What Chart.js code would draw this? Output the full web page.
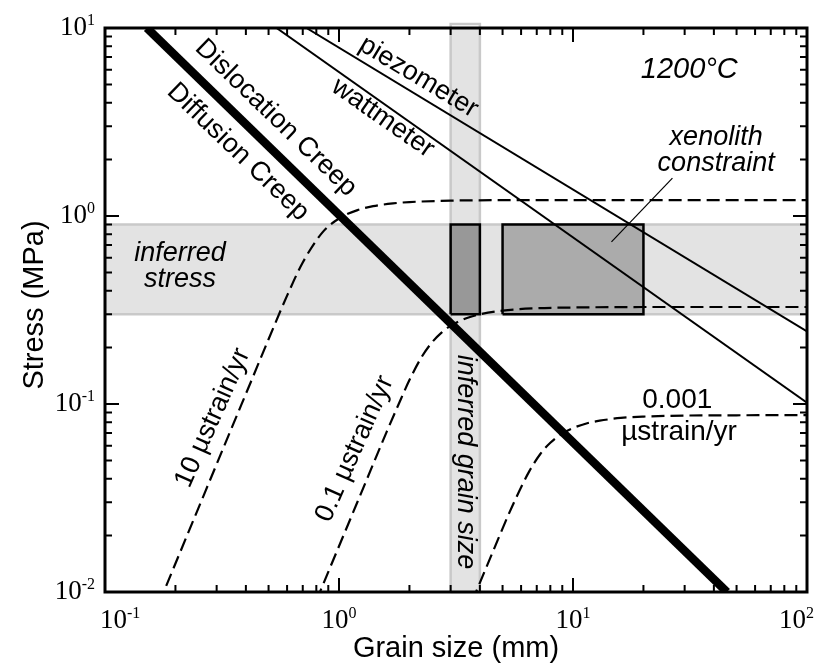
<!DOCTYPE html>
<html>
<head>
<meta charset="utf-8">
<script src="https://cdn.jsdelivr.net/npm/chart.js@4.4.1/dist/chart.umd.min.js"></script>
<style>
  html, body { margin: 0; padding: 0; background: #fff; }
  canvas { display: block; }
</style>
</head>
<body>
<canvas id="chart" width="815" height="664"></canvas>
<script>
// axes (both logarithmic)
const grainRange = [0.1, 100];
const stressRange = [0.01, 10];
const xTickValues = [0.1, 1, 10, 100];
const xTickExponents = ['-1', '0', '1', '2'];
const yTickValues = [0.01, 0.1, 1, 10];
const yTickExponents = ['-2', '-1', '0', '1'];

// shaded constraints
const inferredStress = [0.3, 0.9];
const inferredGrainSize = [3, 4];
const grainBandStress = [0.01, 10.5];
const xenolithGrain = [5, 20];
const xenolithStress = [0.3, 0.9];
const pointerGrain = [14.6, 26.6];
const pointerStress = [0.728, 1.59];

// field boundary and paleo-stress lines
const boundaryGrain = [0.151, 45.5];
const boundaryStress = [10, 0.01];
const piezometerGrain = [0.726, 100];
const piezometerStress = [10, 0.243];
const wattmeterGrain = [0.541, 100];
const wattmeterStress = [10, 0.1016];

// constant strain-rate curves
const rate10Grain = [0.17, 0.25, 0.35, 0.42, 0.5, 0.6, 0.7, 0.85, 1.0, 1.2, 1.4, 1.7, 2, 3, 5, 10, 100];
const rate10Stress = [0.0087, 0.0277, 0.076, 0.131, 0.221, 0.377, 0.566, 0.818, 0.970, 1.075, 1.128, 1.167, 1.186, 1.207, 1.214, 1.216, 1.216];
const rate01Grain = [0.8, 1.2, 1.6, 1.8, 2.0, 2.25, 2.5, 2.75, 3.0, 3.5, 4, 5, 7, 10, 20, 100];
const rate01Stress = [0.009, 0.0302, 0.0713, 0.100, 0.134, 0.177, 0.213, 0.2405, 0.261, 0.286, 0.300, 0.314, 0.323, 0.326, 0.328, 0.328];
const rate0001Grain = [3.7, 4.5, 5.5, 6.5, 7.25, 8, 9, 10, 11.5, 13, 16, 20, 30, 50, 100];
const rate0001Stress = [0.00888, 0.0159, 0.0286, 0.0438, 0.0542, 0.0622, 0.0697, 0.0745, 0.079, 0.0815, 0.0843, 0.0857, 0.0868, 0.0871, 0.0873];

const pts = (xs, ys) => xs.map((v, i) => ({ x: v, y: ys[i] }));
const rect = (xr, yr) => [
  { x: xr[0], y: yr[0] }, { x: xr[1], y: yr[0] }, { x: xr[1], y: yr[1] },
  { x: xr[0], y: yr[1] }, { x: xr[0], y: yr[0] }
];

const SANS = '"Liberation Sans", Arial, sans-serif';
const SERIF = '"Liberation Serif", "Times New Roman", serif';

const base = { pointRadius: 0, tension: 0, borderColor: '#000', fill: false };
const dashed = { ...base, borderWidth: 2.2, borderDash: [13, 6], cubicInterpolationMode: 'monotone', order: 5 };

// frame, inward ticks, tick labels and annotations
const overlay = {
  id: 'overlay',
  afterDraw(chart) {
    const { ctx, chartArea: a, scales: { x, y } } = chart;
    ctx.save();
    ctx.strokeStyle = '#000';
    ctx.fillStyle = '#000';

    // ticks
    ctx.lineWidth = 2;
    ctx.beginPath();
    for (let e = -1; e < 2; e++) {
      for (let m = 1; m < 10; m++) {
        const px = x.getPixelForValue(m * Math.pow(10, e));
        const len = m === 1 ? 14 : 7;
        if (px <= a.left + 1) continue;
        ctx.moveTo(px, a.bottom); ctx.lineTo(px, a.bottom - len);
        ctx.moveTo(px, a.top); ctx.lineTo(px, a.top + len);
      }
    }
    for (let e = -2; e < 1; e++) {
      for (let m = 1; m < 10; m++) {
        const py = y.getPixelForValue(m * Math.pow(10, e));
        const len = m === 1 ? 14 : 7;
        if (py >= a.bottom - 1) continue;
        ctx.moveTo(a.left, py); ctx.lineTo(a.left + len, py);
        ctx.moveTo(a.right, py); ctx.lineTo(a.right - len, py);
      }
    }
    ctx.stroke();

    // frame
    ctx.lineWidth = 3;
    ctx.strokeRect(a.left, a.top, a.right - a.left, a.bottom - a.top);

    // tick labels: 10 with superscript
    const power = (exp, px, baseY, align) => {
      ctx.font = '27px ' + SERIF;
      const w1 = ctx.measureText('10').width;
      ctx.font = '16px ' + SERIF;
      const w2 = ctx.measureText(exp).width;
      const w = w1 + w2;
      let left;
      if (align === 'right') left = px - w;
      else left = Math.min(Math.max(px - w / 2, 100), 814 - w);
      ctx.textAlign = 'left';
      ctx.textBaseline = 'alphabetic';
      ctx.font = '27px ' + SERIF;
      ctx.fillText('10', left, baseY);
      ctx.font = '16px ' + SERIF;
      ctx.fillText(exp, left + w1, baseY - 10);
    };
    xTickValues.forEach((v, i) => power(xTickExponents[i], x.getPixelForValue(v), a.bottom + 36, 'center'));
    yTickValues.forEach((v, i) => power(yTickExponents[i], a.left - 10, y.getPixelForValue(v) + 7, 'right'));

    // axis titles
    ctx.font = '29px ' + SANS;
    ctx.textAlign = 'center';
    ctx.textBaseline = 'alphabetic';
    ctx.fillText('Grain size (mm)', (a.left + a.right) / 2, 657);
    ctx.save();
    ctx.translate(43, 305);
    ctx.rotate(-Math.PI / 2);
    ctx.fillText('Stress (MPa)', 0, 0);
    ctx.restore();

    // annotations placed in data coordinates
    const label = (text, gx, gs, rot, font) => {
      ctx.save();
      ctx.translate(x.getPixelForValue(gx), y.getPixelForValue(gs));
      ctx.rotate(rot * Math.PI / 180);
      ctx.font = font;
      ctx.textAlign = 'center';
      ctx.textBaseline = 'middle';
      ctx.fillText(text, 0, 0);
      ctx.restore();
    };
    const it = 'italic 27px ' + SANS;
    const up = '27px ' + SANS;
    label('1200°C', 31.4, 5.98, 0, 'italic 29px ' + SANS);
    label('xenolith', 40.9, 2.63, 0, it);
    label('constraint', 40.9, 1.91, 0, it);
    label('inferred', 0.209, 0.635, 0, it);
    label('stress', 0.209, 0.457, 0, it);
    label('inferred grain size', 3.47, 0.0491, 90, it);
    label('piezometer', 2.19, 5.48, 31, up);
    label('wattmeter', 1.54, 3.32, 35, up);
    label('Dislocation Creep', 0.537, 3.32, 44, up);
    label('Diffusion Creep', 0.370, 2.19, 44, up);
    label('10 µstrain/yr', 0.289, 0.0843, -66, up);
    label('0.1 µstrain/yr', 1.167, 0.0577, -66, up);
    label('0.001', 27.9, 0.105, 0, '28px ' + SANS);
    label('µstrain/yr', 28.4, 0.0709, 0, '28px ' + SANS);
    ctx.restore();
  }
};

new Chart(document.getElementById('chart'), {
  type: 'line',
  data: {
    datasets: [
      { ...base, data: rect(grainRange, inferredStress), fill: 'shape', backgroundColor: '#e3e3e3', borderColor: '#c9c9c9', borderWidth: 2.5, order: 10 },
      { ...base, data: rect(inferredGrainSize, grainBandStress), fill: 'shape', backgroundColor: '#e3e3e3', borderColor: '#c9c9c9', borderWidth: 2.5, order: 9, clip: false },
      { ...base, data: rect(inferredGrainSize, xenolithStress), fill: 'shape', backgroundColor: '#989898', borderWidth: 2.5, order: 8 },
      { ...base, data: rect(xenolithGrain, xenolithStress), fill: 'shape', backgroundColor: '#ababab', borderWidth: 2.5, order: 8 },
      { ...dashed, data: pts(rate10Grain, rate10Stress) },
      { ...dashed, data: pts(rate01Grain, rate01Stress) },
      { ...dashed, data: pts(rate0001Grain, rate0001Stress) },
      { ...base, data: pts(piezometerGrain, piezometerStress), borderWidth: 2, order: 4 },
      { ...base, data: pts(wattmeterGrain, wattmeterStress), borderWidth: 2, order: 4 },
      { ...base, data: pts(boundaryGrain, boundaryStress), borderWidth: 8.5, order: 3 },
      { ...base, data: pts(pointerGrain, pointerStress), borderWidth: 1.2, order: 2 }
    ]
  },
  options: {
    responsive: false,
    animation: false,
    layout: { padding: { left: 105, right: 8, top: 28, bottom: 72 } },
    plugins: { legend: { display: false }, tooltip: { enabled: false } },
    scales: {
      x: { type: 'logarithmic', min: grainRange[0], max: grainRange[1], display: false },
      y: { type: 'logarithmic', min: stressRange[0], max: stressRange[1], display: false }
    }
  },
  plugins: [overlay]
});
</script>
</body>
</html>
